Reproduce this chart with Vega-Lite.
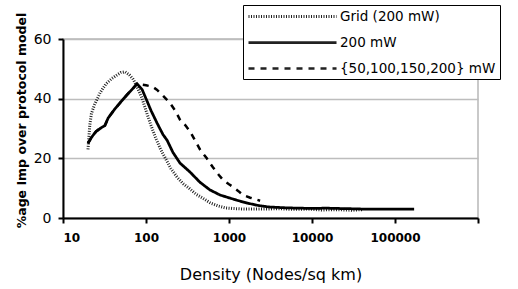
{
  "$schema": "https://vega.github.io/schema/vega-lite/v6.json",
  "autosize": "none",
  "width": 415,
  "height": 179,
  "padding": {"left": 63, "top": 39, "right": 40, "bottom": 71},
  "background": "white",
  "config": {
    "font": "DejaVu Sans",
    "view": {"stroke": "#b8b8b8", "strokeWidth": 1.5}
  },
  "datasets": {
    "grid": [
      {"d": 20, "v": 23}, {"d": 20.5, "v": 27}, {"d": 21, "v": 31}, {"d": 22, "v": 35}, {"d": 24, "v": 38},
      {"d": 28, "v": 42}, {"d": 33, "v": 45}, {"d": 39, "v": 46.8}, {"d": 45, "v": 48}, {"d": 50, "v": 48.8},
      {"d": 56, "v": 49}, {"d": 63, "v": 48}, {"d": 70, "v": 46.5}, {"d": 78, "v": 44}, {"d": 90, "v": 40},
      {"d": 100, "v": 36}, {"d": 115, "v": 31}, {"d": 130, "v": 27}, {"d": 150, "v": 23}, {"d": 175, "v": 19.5},
      {"d": 200, "v": 16.5}, {"d": 240, "v": 13.5}, {"d": 280, "v": 11.5}, {"d": 330, "v": 10}, {"d": 400, "v": 8},
      {"d": 480, "v": 6.7}, {"d": 600, "v": 5}, {"d": 750, "v": 4}, {"d": 900, "v": 3.4}, {"d": 1100, "v": 3.2},
      {"d": 1500, "v": 3}, {"d": 2500, "v": 3}, {"d": 4000, "v": 3.1}, {"d": 6000, "v": 2.9}, {"d": 9000, "v": 3},
      {"d": 13000, "v": 2.7}, {"d": 20000, "v": 2.8}, {"d": 30000, "v": 2.6}, {"d": 40000, "v": 2.8}
    ],
    "p200": [
      {"d": 20, "v": 25}, {"d": 22, "v": 27}, {"d": 25, "v": 29}, {"d": 28, "v": 30}, {"d": 32, "v": 31},
      {"d": 35, "v": 33.5}, {"d": 42, "v": 36.5}, {"d": 50, "v": 39}, {"d": 60, "v": 41.5}, {"d": 70, "v": 43.5},
      {"d": 78, "v": 45}, {"d": 90, "v": 43}, {"d": 100, "v": 40}, {"d": 115, "v": 36}, {"d": 136, "v": 31.8},
      {"d": 160, "v": 28}, {"d": 180, "v": 26}, {"d": 211, "v": 22}, {"d": 257, "v": 18.4}, {"d": 339, "v": 15.4},
      {"d": 446, "v": 12}, {"d": 590, "v": 9.4}, {"d": 780, "v": 7.7}, {"d": 1020, "v": 6.7}, {"d": 1300, "v": 5.8},
      {"d": 1660, "v": 5}, {"d": 2250, "v": 4.2}, {"d": 3000, "v": 3.7}, {"d": 5000, "v": 3.4}, {"d": 7000, "v": 3.3},
      {"d": 10000, "v": 3.2}, {"d": 15000, "v": 3.3}, {"d": 20000, "v": 3.2}, {"d": 30000, "v": 3.1}, {"d": 40000, "v": 3},
      {"d": 60000, "v": 3}, {"d": 100000, "v": 3}, {"d": 170000, "v": 3}
    ],
    "multi": [
      {"d": 20, "v": 25}, {"d": 22, "v": 27}, {"d": 25, "v": 29}, {"d": 28, "v": 30}, {"d": 32, "v": 31},
      {"d": 35, "v": 33.5}, {"d": 42, "v": 36.5}, {"d": 50, "v": 39}, {"d": 60, "v": 41.5}, {"d": 70, "v": 43.5},
      {"d": 78, "v": 45}, {"d": 85, "v": 44.8}, {"d": 100, "v": 44.5}, {"d": 120, "v": 44}, {"d": 135, "v": 43},
      {"d": 160, "v": 41}, {"d": 195, "v": 38.5}, {"d": 225, "v": 36}, {"d": 256, "v": 33}, {"d": 300, "v": 31},
      {"d": 339, "v": 29}, {"d": 390, "v": 26}, {"d": 446, "v": 23}, {"d": 540, "v": 20}, {"d": 640, "v": 17},
      {"d": 750, "v": 14.5}, {"d": 850, "v": 12.7}, {"d": 1000, "v": 11.3}, {"d": 1120, "v": 10.4}, {"d": 1300, "v": 9},
      {"d": 1470, "v": 7.7}, {"d": 1800, "v": 6.8}, {"d": 2370, "v": 5.8}
    ]
  },
  "layer": [
    {
      "data": {"name": "grid"},
      "transform": [{"calculate": "'Grid (200 mW)'", "as": "s"}],
      "mark": {"type": "line", "color": "#222222"},
      "encoding": {
        "x": {"field": "d", "type": "quantitative"},
        "y": {"field": "v", "type": "quantitative"},
        "strokeDash": {"field": "s", "type": "nominal"},
        "strokeWidth": {"field": "s", "type": "nominal"}
      }
    },
    {
      "data": {"name": "multi"},
      "transform": [{"calculate": "'{50,100,150,200} mW'", "as": "s"}],
      "mark": {"type": "line", "color": "black"},
      "encoding": {
        "x": {"field": "d", "type": "quantitative"},
        "y": {"field": "v", "type": "quantitative"},
        "strokeDash": {"field": "s", "type": "nominal"},
        "strokeWidth": {"field": "s", "type": "nominal"}
      }
    },
    {
      "data": {"name": "p200"},
      "transform": [{"calculate": "'200 mW'", "as": "s"}],
      "mark": {"type": "line", "color": "black"},
      "encoding": {
        "x": {
          "field": "d", "type": "quantitative",
          "scale": {"type": "log", "domain": [10, 1000000], "nice": false},
          "axis": {
            "values": [10, 100, 1000, 10000, 100000, 1000000],
            "format": "d",
            "title": "Density (Nodes/sq km)",
            "grid": false,
            "domainColor": "black", "domainWidth": 2,
            "tickColor": "black", "tickWidth": 2, "tickSize": 5,
            "labelFontSize": 12, "labelFontWeight": "bold", "labelColor": "black", "labelPadding": 9,
            "titleFontSize": 16, "titleFontWeight": "normal", "titleColor": "black", "titlePadding": 23
          }
        },
        "y": {
          "field": "v", "type": "quantitative",
          "scale": {"domain": [0, 60], "nice": false},
          "axis": {
            "values": [0, 10, 20, 30, 40, 50, 60],
            "title": "%age Imp over protocol model",
            "grid": true, "gridColor": "#bdbdbd", "gridWidth": 1.5,
            "domainColor": "black", "domainWidth": 2,
            "tickColor": "black", "tickWidth": 2, "tickSize": 5,
            "labelFontSize": 14, "labelColor": "black", "labelPadding": 7,
            "titleFontSize": 12.5, "titleFontWeight": "bold", "titleColor": "black",
            "titleX": -35, "titleY": 81, "titleBaseline": "bottom"
          }
        },
        "strokeDash": {
          "field": "s", "type": "nominal",
          "scale": {
            "domain": ["Grid (200 mW)", "200 mW", "{50,100,150,200} mW"],
            "range": [[1, 1.5], [1, 0], [6, 6]]
          },
          "legend": {
            "title": null,
            "orient": "none", "legendX": 180, "legendY": -34,
            "fillColor": "white", "strokeColor": "black",
            "padding": 4,
            "symbolType": "M-1,0H13.67", "symbolSize": 144,
            "symbolStrokeColor": "black", "symbolFillColor": "transparent",
            "labelFontSize": 13.5, "labelColor": "black", "labelOffset": 78,
            "rowPadding": 12
          }
        },
        "strokeWidth": {
          "field": "s", "type": "nominal",
          "scale": {
            "domain": ["Grid (200 mW)", "200 mW", "{50,100,150,200} mW"],
            "range": [3, 2.5, 1.2]
          }
        }
      }
    }
  ]
}
